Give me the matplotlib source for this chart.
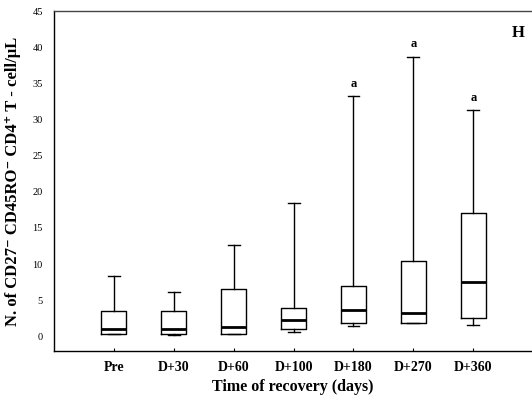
import matplotlib
matplotlib.use('Agg')
import matplotlib.pyplot as plt

# ---------- Data ---------- #
groups = ['Pre', 'D+30', 'D+60', 'D+100', 'D+180', 'D+270', 'D+360']
whisker_lo = [0.3, 0.2, 0.3, 0.6, 1.4, 1.8, 1.6]
q1 = [0.4, 0.3, 0.4, 1.0, 1.9, 1.9, 2.6]
median = [1.0, 1.0, 1.3, 2.3, 3.7, 3.2, 7.5]
q3 = [3.5, 3.5, 6.5, 4.0, 7.0, 10.4, 17.1]
whisker_hi = [8.3, 6.2, 12.7, 18.5, 33.2, 38.7, 31.3]
signif = ['', '', '', '', 'a', 'a', 'a']

plt.rcParams['font.family'] = ['Liberation Serif', 'DejaVu Serif']

stats = []
for i, g in enumerate(groups):
    stats.append({'label': g, 'whislo': whisker_lo[i], 'q1': q1[i],
                  'med': median[i], 'q3': q3[i], 'whishi': whisker_hi[i],
                  'fliers': []})

fig = plt.figure(figsize=(5.32, 4.09), dpi=100)
ax = fig.add_axes([0.1015, 0.142, 0.8985, 0.831])

pos = list(range(1, len(groups) + 1))
ax.bxp(stats, positions=pos, widths=0.42, showfliers=False,
       boxprops=dict(color='black', linewidth=1.0),
       whiskerprops=dict(color='black', linewidth=1.0),
       capprops=dict(color='black', linewidth=1.0),
       medianprops=dict(color='black', linewidth=2.0),
       capwidths=0.2)

# ---------- Significance marks ---------- #
for p, hi, s in zip(pos, whisker_hi, signif):
    if s:
        ax.text(p, hi + 0.9, s, ha='center', va='bottom', fontsize=9,
                fontweight='bold')

ax.text(0.985, 0.935, 'H', transform=ax.transAxes, ha='right', va='center',
        fontsize=12, fontweight='bold')

# ---------- Axes ---------- #
ax.set_xlim(0, 7.98)
ax.set_ylim(-2, 45)
ax.set_yticks(range(0, 46, 5))
ax.set_xticks(pos)
ax.set_xticklabels(groups, fontsize=10, fontweight='bold')
ax.tick_params(axis='y', length=0, labelsize=7.5, pad=8)
ax.tick_params(axis='x', length=2, direction='in', pad=7)

ax.spines['right'].set_visible(False)
for sp in ['left', 'bottom', 'top']:
    ax.spines[sp].set_linewidth(1.0)
ax.spines['top'].set_color('#444444')

ax.set_xlabel('Time of recovery (days)', fontsize=11.5, fontweight='bold',
              labelpad=4)
ax.set_ylabel('N. of CD27\u207b CD45RO\u207b CD4\u207a T - cell/\u03bcL',
              fontsize=12, fontweight='bold', labelpad=8)

fig.savefig('out.png', dpi=100)
